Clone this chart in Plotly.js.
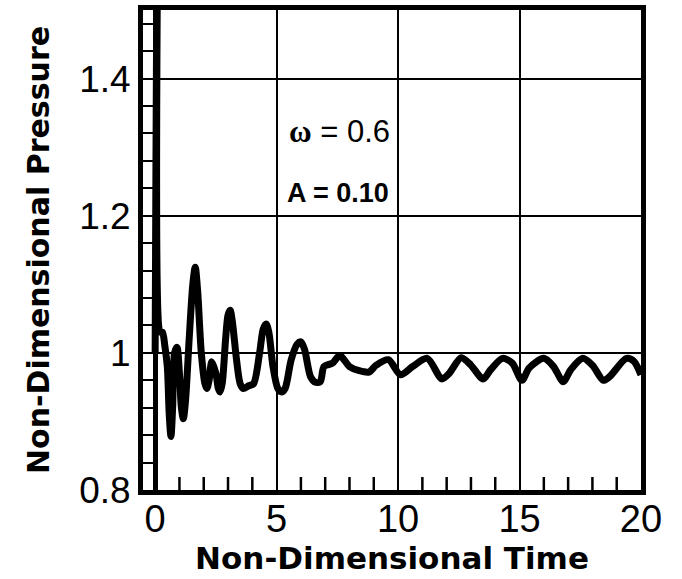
<!DOCTYPE html>
<html>
<head>
<meta charset="utf-8">
<script src="https://cdn.plot.ly/plotly-3.0.1.min.js"></script>
<style>html,body{margin:0;padding:0;background:#fff;}#chart{width:682px;height:579px;}</style>
</head>
<body>
<div id="chart"></div>
<script>
// Non-dimensional time and pressure
const time = [0.0, 0.1, 0.22, 0.3, 0.4, 0.5, 0.58, 0.65, 0.72, 0.8, 0.9, 1.0, 1.08, 1.16, 1.25, 1.4, 1.55, 1.65, 1.75, 1.9, 2.05, 2.13, 2.22, 2.33, 2.5, 2.6, 2.67, 2.76, 2.9, 3.0, 3.09, 3.18, 3.35, 3.5, 3.63, 3.85, 4.05, 4.3, 4.45, 4.57, 4.68, 4.85, 5.05, 5.2, 5.35, 5.6, 5.85, 6.0, 6.15, 6.4, 6.6, 6.8, 6.95, 7.3, 7.6, 8.0, 8.4, 8.8, 9.1, 9.6, 10.1, 10.6, 11.2, 11.8, 12.1, 12.6, 13.0, 13.5, 13.8, 14.3, 14.7, 15.1, 15.4, 16.0, 16.4, 16.8, 17.1, 17.6, 18.0, 18.45, 18.7, 19.4, 19.7, 20.0];
const pressure = [1.0, 1.62, 1.03, 1.03, 1.01, 0.98, 0.91, 0.878, 0.92, 1.0, 1.008, 0.97, 0.92, 0.904, 0.93, 1.02, 1.1, 1.125, 1.09, 1.0, 0.955, 0.948, 0.96, 0.987, 0.97, 0.948, 0.943, 0.955, 1.02, 1.055, 1.062, 1.045, 0.99, 0.955, 0.948, 0.952, 0.955, 1.0, 1.035, 1.042, 1.03, 0.98, 0.948, 0.943, 0.948, 0.99, 1.013, 1.016, 1.005, 0.965, 0.957, 0.958, 0.98, 0.985, 0.996, 0.98, 0.974, 0.972, 0.982, 0.99, 0.968, 0.98, 0.992, 0.962, 0.97, 0.993, 0.982, 0.962, 0.975, 0.992, 0.985, 0.96, 0.978, 0.992, 0.98, 0.958, 0.975, 0.992, 0.982, 0.96, 0.965, 0.992, 0.988, 0.968];
const xRange = [-0.5, 20];
const yRange = [0.8, 1.5];
// unit minor ticks of the time axis (between the labelled ticks)
const xMinorTicks = [1, 2, 3, 4, 6, 7, 8, 9, 11, 12, 13, 14, 16, 17, 18, 19];
const xTitle = 'Non-Dimensional Time';
const yTitle = 'Non-Dimensional Pressure';
const omegaLabel = '<span style="font-family:\'Liberation Serif\';font-weight:bold">ω</span> = 0.6';
const ampLabel = '<b>A = 0.10</b>';

const trace = {
  x: time, y: pressure, type: 'scatter', mode: 'lines',
  line: {color: '#000', width: 7, shape: 'spline', smoothing: 0.8},
  hoverinfo: 'skip'
};
// inward tick marks on the time axis, drawn as short vertical line markers just above the bottom frame
const tickOffset = (yRange[1] - yRange[0]) * 0.011;
const xTickMarks = {
  x: xMinorTicks, y: xMinorTicks.map(() => yRange[0] + tickOffset),
  type: 'scatter', mode: 'markers', cliponaxis: false, hoverinfo: 'skip',
  marker: {symbol: 'line-ns', size: 11, color: '#000', line: {color: '#000', width: 2.5}}
};
// empty trace so the y minor-tick overlay axis gets drawn
const yTickHolder = {x: [], y: [], type: 'scatter', mode: 'lines', xaxis: 'x2', yaxis: 'y2', hoverinfo: 'skip'};

const layout = {
  width: 682, height: 579,
  margin: {l: 143, r: 41, t: 10, b: 89},
  paper_bgcolor: '#fff', plot_bgcolor: '#fff',
  showlegend: false,
  font: {family: '"Liberation Sans", Arial, sans-serif', color: '#000'},
  xaxis: {
    range: xRange, tickmode: 'linear', tick0: 0, dtick: 5,
    showline: true, linewidth: 5, linecolor: '#000', mirror: true,
    showgrid: true, gridcolor: '#000', gridwidth: 2,
    zeroline: true, zerolinecolor: '#000', zerolinewidth: 5,
    ticks: '',
    tickfont: {size: 38, family: '"Liberation Sans", Arial, sans-serif'},
    ticklabelstandoff: -9,
    title: {text: xTitle, font: {size: 31, family: '"DejaVu Sans", sans-serif', weight: 'bold'}, standoff: 0},
    fixedrange: true
  },
  yaxis: {
    range: yRange, tickmode: 'linear', tick0: 0.8, dtick: 0.2,
    showline: true, linewidth: 5, linecolor: '#000', mirror: true,
    showgrid: true, gridcolor: '#000', gridwidth: 2,
    zeroline: false,
    ticks: 'inside', ticklen: 10, tickwidth: 2, tickcolor: '#000',
    tickfont: {size: 37, family: '"Liberation Sans", Arial, sans-serif'},
    title: {text: yTitle, font: {size: 30, family: '"DejaVu Sans", sans-serif', weight: 'bold'}, standoff: 22},
    fixedrange: true
  },
  xaxis2: {
    overlaying: 'x', anchor: 'y2', side: 'bottom', range: xRange,
    ticks: '', showticklabels: false, showgrid: false, zeroline: false, showline: false, fixedrange: true
  },
  yaxis2: {
    overlaying: 'y', anchor: 'x2', side: 'left', range: yRange, tickmode: 'linear', tick0: 0.8, dtick: 0.04,
    ticks: 'inside', ticklen: 10, tickwidth: 2, tickcolor: '#000',
    showticklabels: false, showgrid: false, zeroline: false, showline: false, fixedrange: true
  },
  annotations: [
    {x: 7.57, y: 1.323, xref: 'x', yref: 'y', text: omegaLabel, showarrow: false,
     font: {size: 31, family: '"Liberation Sans", Arial, sans-serif', color: '#000'}, xanchor: 'center', yanchor: 'middle'},
    {x: 7.53, y: 1.233, xref: 'x', yref: 'y', text: ampLabel, showarrow: false,
     font: {size: 27, family: '"Liberation Sans", Arial, sans-serif', color: '#000'}, xanchor: 'center', yanchor: 'middle'}
  ]
};

Plotly.newPlot('chart', [trace, xTickMarks, yTickHolder], layout, {displayModeBar: false, staticPlot: true});
</script>
</body>
</html>
